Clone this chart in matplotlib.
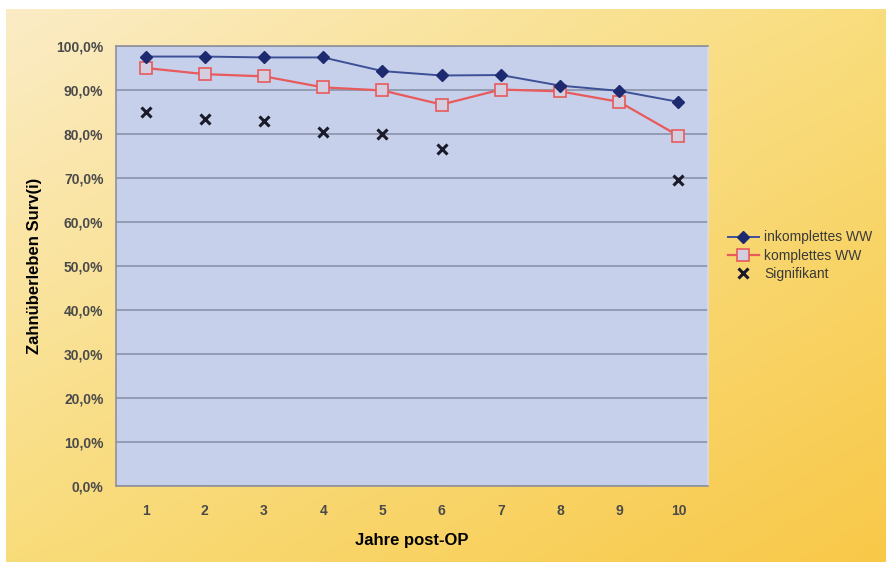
import numpy as np
import matplotlib
matplotlib.use("Agg")
import matplotlib.pyplot as plt
from matplotlib.ticker import FuncFormatter

# Zahnüberleben nach Jahren post-OP (in %)
jahre = [1, 2, 3, 4, 5, 6, 7, 8, 9, 10]
inkomplett = [97.6, 97.6, 97.4, 97.4, 94.3, 93.3, 93.4, 91.0, 89.8, 87.3]
komplett = [95.0, 93.6, 93.1, 90.6, 89.9, 86.7, 90.1, 89.7, 87.3, 79.6]
sig_jahre = [1, 2, 3, 4, 5, 6, 10]
signifikant = [85.0, 83.4, 83.0, 80.5, 79.9, 76.6, 69.5]

plt.rcParams['font.family'] = ['Liberation Sans', 'DejaVu Sans']

fig = plt.figure(figsize=(8.86, 5.62), dpi=100, facecolor="white")

# yellow gradient behind everything
bg = fig.add_axes([6 / 886, 0, 1 - 6 / 886, 1 - 9 / 562], zorder=-10)
u = np.linspace(0, 1, 300)[None, :]
v = np.linspace(0, 1, 200)[:, None]
c00 = np.array([251, 236, 198]) / 255
c10 = np.array([249, 221, 125]) / 255
c01 = np.array([249, 220, 122]) / 255
c11 = np.array([248, 200, 72]) / 255
grad = ((1 - u) * (1 - v))[..., None] * c00 + (u * (1 - v))[..., None] * c10 \
    + ((1 - u) * v)[..., None] * c01 + (u * v)[..., None] * c11
bg.imshow(grad, aspect="auto", extent=[0, 1, 1, 0])
bg.axis("off")

ax = fig.add_axes([116 / 886, 1 - 486 / 562, 592 / 886, 440 / 562])
ax.set_facecolor("#c6d0ea")

ax.plot(jahre, inkomplett, color="#3d4f96", lw=1.4, marker="D", ms=6,
        mfc="#1d2a70", mec="#1d2a70", label="inkomplettes WW", zorder=4)
ax.plot(jahre, komplett, color="#e85a5c", lw=1.6, marker="s", ms=8,
        mfc="#d4cfe0", mec="#e85a5c", mew=1.2, label="komplettes WW", zorder=3)
ax.plot(sig_jahre, signifikant, ls="none", marker="x", ms=7, mew=2.2,
        color="#1a1a2a", label="Signifikant", zorder=5)

ax.set_xlim(0.5, 10.5)
ax.set_ylim(0, 100)
ax.set_xticks(jahre)
ax.set_yticks(np.arange(0, 101, 10))
ax.yaxis.set_major_formatter(FuncFormatter(lambda y, _: f"{y:.1f}%".replace(".", ",")))
ax.grid(axis="y", color="#8a93a8", lw=1.2)
ax.set_axisbelow(True)
ax.tick_params(length=0, labelsize=10, labelcolor="#4a4a4a", pad=9)
ax.tick_params(axis="x", pad=13)
for lbl in ax.get_xticklabels() + ax.get_yticklabels():
    lbl.set_fontweight("bold")
for s in ax.spines.values():
    s.set_color("#8e919c")
    s.set_linewidth(1.2)
ax.spines["right"].set_color("#d8dbe6")

ax.set_xlabel("Jahre post-OP", fontsize=12, fontweight="bold", labelpad=11)
ax.set_ylabel("Zahnüberleben Surv(i)", fontsize=12, fontweight="bold", labelpad=10)

fig.legend(loc="upper left", bbox_to_anchor=(715 / 886, 1 - 218 / 562),
           frameon=False, fontsize=10, handlelength=2.3, handletextpad=0.35,
           labelspacing=0.3, labelcolor="#3a3a3a")

fig.savefig("out.png", dpi=100)
